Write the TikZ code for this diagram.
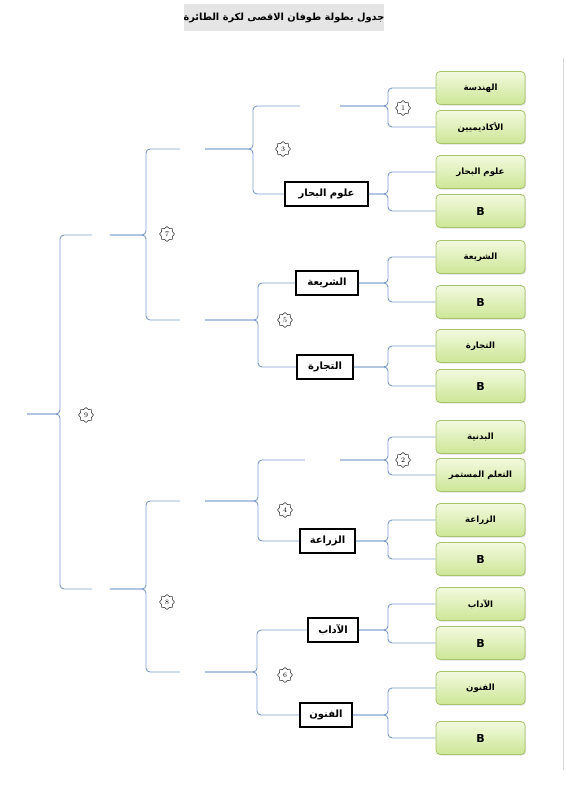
\documentclass[tikz,border=0pt]{standalone}
\usepackage{fontspec}
\usetikzlibrary{shapes.geometric,shadows}
\TeXXeTstate=1
\newfontfamily\arabicfont[Script=Arabic]{DejaVu Sans}
\newfontfamily\latinsans{DejaVu Sans}
\newcommand\artxt[1]{{\arabicfont\bfseries\beginR #1\endR}}
\definecolor{brc}{HTML}{7C9BC9}
\definecolor{gtop}{HTML}{F2FADF}
\definecolor{gbot}{HTML}{CDE696}
\definecolor{gbd}{HTML}{A8C46A}
\newcommand\mkbrace[4]{%
  \draw[br] (#1) -- (#1 -| #3) -- (#4 -| #3) -- (#4);
  \draw[br] (#2) -- (#2 -| #3) -- (#4 -| #3) -- (#4);}
\begin{document}
\begin{tikzpicture}[x=1pt,y=-1pt,
  gbox/.style={draw=gbd, line width=0.8pt, rounded corners=4pt, top color=gtop, bottom color=gbot,
    minimum width=89pt, minimum height=33pt, inner sep=0pt, font=\fontsize{8.6}{10}\selectfont,
    drop shadow={opacity=0.25, shadow xshift=1pt, shadow yshift=-1pt}},
  bgb/.style={gbox, font=\latinsans\bfseries\fontsize{11}{13}\selectfont},
  kbox/.style={draw=black, line width=1.8pt, fill=white, minimum height=24pt, inner sep=2pt,
    font=\fontsize{10}{12}\selectfont},
  slot/.style={inner sep=0pt, minimum height=0pt},
  badge/.style={star, star points=8, star point ratio=1.25, draw=black!80, line width=0.55pt,
    minimum size=15pt, inner sep=0pt, font=\fontsize{7}{8}\selectfont},
  br/.style={draw=brc, line width=0.9pt, rounded corners=4pt},
  ttl/.style={fill=black!10, minimum width=198pt, minimum height=27pt, inner sep=0pt,
    font=\fontsize{9.8}{12}\selectfont}]
\useasboundingbox (0,0) rectangle (565,800);
% title
\node[ttl] (title) at (284,18) {\artxt{جدول بطولة طوفان الاقصى لكرة الطائرة}};
% frame line on the right
\coordinate (fr1) at (563,58);
\coordinate (fr2) at (563,770);
\draw[black!15, line width=0.8pt] (fr1) -- (fr2);
% green boxes
\node[gbox] (g1) at (480.5,88) {\artxt{الهندسة}};
\node[gbox] (g2) at (480.5,127) {\artxt{الأكاديميين}};
\node[gbox] (g3) at (480.5,172) {\artxt{علوم البحار}};
\node[bgb] (g4) at (480.5,211) {B};
\node[gbox] (g5) at (480.5,257) {\artxt{الشريعة}};
\node[bgb] (g6) at (480.5,302) {B};
\node[gbox] (g7) at (480.5,346) {\artxt{التجارة}};
\node[bgb] (g8) at (480.5,386) {B};
\node[gbox] (g9) at (480.5,437) {\artxt{البدنية}};
\node[gbox] (g10) at (480.5,475) {\artxt{التعلم المستمر}};
\node[gbox] (g11) at (480.5,520) {\artxt{الزراعة}};
\node[bgb] (g12) at (480.5,559) {B};
\node[gbox] (g13) at (480.5,604) {\artxt{الآداب}};
\node[bgb] (g14) at (480.5,643) {B};
\node[gbox] (g15) at (480.5,688) {\artxt{الفنون}};
\node[bgb] (g16) at (480.5,738) {B};
% black boxes
\node[kbox, minimum width=83pt] (k1) at (326.5,194) {\artxt{علوم البحار}};
\node[kbox, minimum width=62pt] (k2) at (327,283) {\artxt{الشريعة}};
\node[kbox, minimum width=56pt] (k3) at (325,367) {\artxt{التجارة}};
\node[kbox, minimum width=55pt] (k4) at (327.5,541) {\artxt{الزراعة}};
\node[kbox, minimum width=50pt] (k5) at (333,630) {\artxt{الآداب}};
\node[kbox, minimum width=52pt] (k6) at (326,715) {\artxt{الفنون}};
% empty slots
\node[slot, minimum width=40pt] (s1) at (320,106) {};
\node[slot, minimum width=35pt] (s2) at (322.5,460) {};
\node[slot, minimum width=25pt] (s3) at (192.5,149) {};
\node[slot, minimum width=25pt] (s5) at (192.5,320) {};
\node[slot, minimum width=25pt] (s4) at (192.5,501) {};
\node[slot, minimum width=25pt] (s6) at (192.5,672) {};
\node[slot, minimum width=18pt] (s7) at (101,235) {};
\node[slot, minimum width=18pt] (s8) at (101,589) {};
\coordinate (root) at (27,414);
% vertical lines of the braces
\coordinate (v1) at (388,0);
\coordinate (v2a) at (253,0);
\coordinate (v2b) at (258,0);
\coordinate (v2c) at (257,0);
\coordinate (v3) at (146,0);
\coordinate (v4) at (60,0);
% braces
\mkbrace{g1.west}{g2.west}{v1}{s1.east}
\mkbrace{g3.west}{g4.west}{v1}{k1.east}
\mkbrace{g5.west}{g6.west}{v1}{k2.east}
\mkbrace{g7.west}{g8.west}{v1}{k3.east}
\mkbrace{g9.west}{g10.west}{v1}{s2.east}
\mkbrace{g11.west}{g12.west}{v1}{k4.east}
\mkbrace{g13.west}{g14.west}{v1}{k5.east}
\mkbrace{g15.west}{g16.west}{v1}{k6.east}
\mkbrace{s1.west}{k1.west}{v2a}{s3.east}
\mkbrace{k2.west}{k3.west}{v2b}{s5.east}
\mkbrace{s2.west}{k4.west}{v2b}{s4.east}
\mkbrace{k5.west}{k6.west}{v2c}{s6.east}
\mkbrace{s3.west}{s5.west}{v3}{s7.east}
\mkbrace{s4.west}{s6.west}{v3}{s8.east}
\mkbrace{s7.west}{s8.west}{v4}{root}
% badges
\node[badge] (n1) at (403,108) {1};
\node[badge] (n2) at (403,460) {2};
\node[badge] (n3) at (283,149) {3};
\node[badge] (n4) at (285,510) {4};
\node[badge] (n5) at (285,320) {5};
\node[badge] (n6) at (285,675) {6};
\node[badge] (n7) at (167,234) {7};
\node[badge] (n8) at (167,602) {8};
\node[badge] (n9) at (86,415) {9};
\end{tikzpicture}
\end{document}
